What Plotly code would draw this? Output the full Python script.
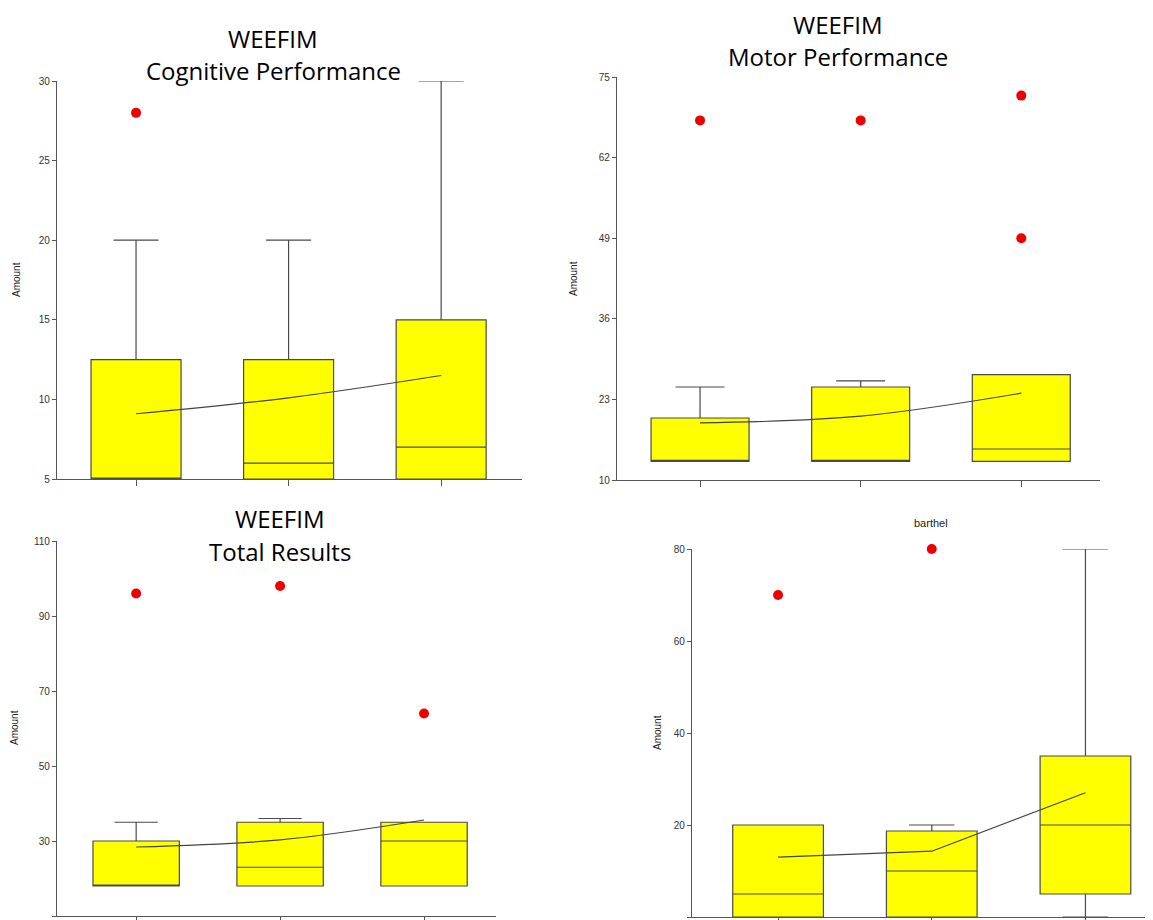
import plotly.graph_objects as go

# Page body has an 8px margin: every reference pixel position is shifted by
# OFF into figure coordinates; the figure runs to the window's right/bottom edge.
OFF = 8
W, H = 1153 - OFF, 920 - OFF

groups = ["Group 1", "Group 2", "Group 3"]

# Panel 1: WEEFIM Cognitive Performance
cog_q1 = [5, 5, 5]
cog_median = [5, 6, 7]
cog_q3 = [12.5, 12.5, 15]
cog_low = [5, 5, 5]
cog_high = [20, 20, 30]
cog_mean = [9.1, 10.1, 11.5]
cog_out_x = ["Group 1"]
cog_out_y = [28]

# Panel 2: WEEFIM Motor Performance
mot_q1 = [13, 13, 13]
mot_median = [13, 13, 15]
mot_q3 = [20, 25, 27]
mot_low = [13, 13, 13]
mot_high = [25, 26, 27]
mot_mean = [19.2, 20.3, 24]
mot_out_x = ["Group 1", "Group 2", "Group 3", "Group 3"]
mot_out_y = [68, 68, 72, 49]

# Panel 3: WEEFIM Total Results
tot_q1 = [18, 18, 18]
tot_median = [18, 23, 30]
tot_q3 = [30, 35, 35]
tot_low = [18, 18, 18]
tot_high = [35, 36, 35]
tot_mean = [28.4, 30.3, 35.6]
tot_out_x = ["Group 1", "Group 2", "Group 3"]
tot_out_y = [96, 98, 64]

# Panel 4: barthel
bar_q1 = [0, 0, 5]
bar_median = [5, 10, 20]
bar_q3 = [20, 18.7, 35]
bar_low = [0, 0, 0]
bar_high = [20, 20, 80]
bar_mean = [13, 14.3, 27]
bar_out_x = ["Group 1", "Group 2"]
bar_out_y = [70, 80]

def fx(p):
    return min(max((p - OFF) / W, 0), 1)

def fy(p):
    return min(max(1 - (p - OFF) / H, 0), 1)

def px_x(a, b):
    return [fx(a), fx(b)]

def px_y(top, bottom):
    return [fy(bottom), fy(top)]

panels = [
    dict(q1=cog_q1, med=cog_median, q3=cog_q3, lo=cog_low, hi=cog_high, mean=cog_mean,
         ox=cog_out_x, oy=cog_out_y, xd=px_x(57, 522), yd=px_y(81, 479),
         xr=[-0.518, 2.53], yr=[5, 30], tv=[5, 10, 15, 20, 25, 30], w=0.59, shape="spline"),
    dict(q1=mot_q1, med=mot_median, q3=mot_q3, lo=mot_low, hi=mot_high, mean=mot_mean,
         ox=mot_out_x, oy=mot_out_y, xd=px_x(617, 1100), yd=px_y(77, 480),
         xr=[-0.517, 2.49], yr=[10, 75], tv=[10, 23, 36, 49, 62, 75], w=0.61, shape="spline"),
    dict(q1=tot_q1, med=tot_median, q3=tot_q3, lo=tot_low, hi=tot_high, mean=tot_mean,
         ox=tot_out_x, oy=tot_out_y, xd=px_x(57, 496), yd=px_y(541, 916),
         xr=[-0.55, 2.5], yr=[10, 110], tv=[10, 30, 50, 70, 90, 110], w=0.6, shape="spline"),
    dict(q1=bar_q1, med=bar_median, q3=bar_q3, lo=bar_low, hi=bar_high, mean=bar_mean,
         ox=bar_out_x, oy=bar_out_y, xd=px_x(692, 1150), yd=px_y(549, 917),
         xr=[-0.56, 2.42], yr=[0, 80], tv=[0, 20, 40, 60, 80], w=0.59, shape="linear"),
]

fig = go.Figure()
layout = dict(width=W, height=H, margin=dict(l=0, r=0, t=0, b=0, autoexpand=False),
              plot_bgcolor="white", paper_bgcolor="white", showlegend=False)

for i, p in enumerate(panels, start=1):
    xa = "x" if i == 1 else f"x{i}"
    ya = "y" if i == 1 else f"y{i}"
    fig.add_trace(go.Box(
        x=groups, q1=p["q1"], median=p["med"], q3=p["q3"],
        lowerfence=p["lo"], upperfence=p["hi"],
        width=p["w"], whiskerwidth=0.5, fillcolor="#FFFF00",
        line=dict(color="#4a4a4a", width=1.2), boxpoints=False,
        hoverinfo="skip", xaxis=xa, yaxis=ya))
    fig.add_trace(go.Scatter(
        x=groups, y=p["mean"], mode="lines",
        line=dict(color="#444444", width=1.2, shape=p["shape"]),
        xaxis=xa, yaxis=ya))
    fig.add_trace(go.Scatter(
        x=p["ox"], y=p["oy"], mode="markers",
        marker=dict(color="#EE0000", size=10, line=dict(width=0)),
        cliponaxis=False, xaxis=xa, yaxis=ya))
    xkey = "xaxis" if i == 1 else f"xaxis{i}"
    ykey = "yaxis" if i == 1 else f"yaxis{i}"
    layout[xkey] = dict(domain=p["xd"], anchor=ya, type="category",
                        categoryorder="array", categoryarray=groups,
                        range=p["xr"], showgrid=False, zeroline=False,
                        showline=True, linecolor="#555555", linewidth=1.2,
                        ticks="outside", ticklen=6, tickcolor="#555555",
                        showticklabels=False, fixedrange=True, automargin=False)
    layout[ykey] = dict(domain=p["yd"], anchor=xa, range=p["yr"],
                        tickvals=p["tv"], showgrid=False, zeroline=False,
                        showline=True, linecolor="#555555", linewidth=1.2,
                        ticks="outside", ticklen=4, tickcolor="#555555",
                        tickfont=dict(family="Liberation Sans, Arial", size=10, color="#333333"),
                        fixedrange=True, automargin=False)

fig.update_layout(**layout)

title_font = dict(family="Open Sans, Noto Sans", size=24, color="black")
small_font = dict(family="Liberation Sans, Arial", size=11, color="#222222")
ann = []
def add_text(text, x, y, font, angle=0):
    ann.append(dict(text=text, x=fx(x), y=fy(y), xref="paper", yref="paper",
                    showarrow=False, font=font, textangle=angle,
                    xanchor="center", yanchor="middle"))

add_text("WEEFIM", 273, 39, title_font)
add_text("Cognitive Performance", 273, 71, title_font)
add_text("WEEFIM", 838, 24, title_font)
add_text("Motor Performance", 838, 57, title_font)
add_text("WEEFIM", 280, 518, title_font)
add_text("Total Results", 280, 551, title_font)
add_text("barthel", 931, 523, small_font)

axis_font = dict(family="Liberation Sans, Arial", size=10, color="#222222")
add_text("Amount", 16, 280, axis_font, -90)
add_text("Amount", 573, 279, axis_font, -90)
add_text("Amount", 14, 728, axis_font, -90)
add_text("Amount", 657, 733, axis_font, -90)

fig.update_layout(annotations=ann)
fig.write_html("out.html")
